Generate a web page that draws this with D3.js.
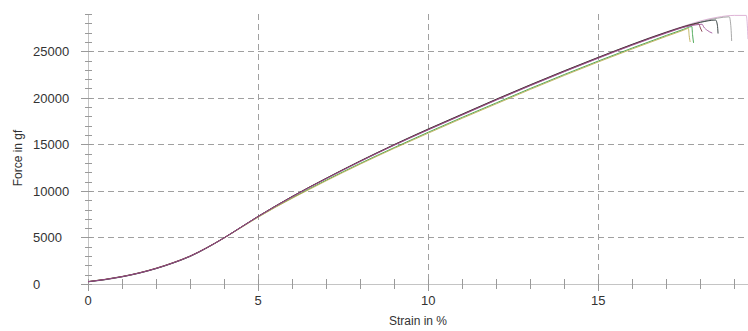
<!DOCTYPE html>
<html><head><meta charset="utf-8">
<script src="https://cdn.jsdelivr.net/npm/d3@7"></script>
<style>
body{margin:0;background:#fff;}
svg{display:block;font-family:"Liberation Sans",Arial,sans-serif;}
</style></head>
<body><svg id="c" width="748" height="331"></svg>
<script>
// ---- data ----
const xTicks = [0, 5, 10, 15];
const yTicks = [0, 5000, 10000, 15000, 20000, 25000];
const seriesNames = ["S1", "S2", "S3", "S4", "S5", "S6", "S7"];
const seriesColors = ["#2f9a3c", "#b9a84a", "#d8a6cf", "#9a9a9a", "#1f2a2a", "#7a2e3a", "#9b4f96"];

const s1 = [[0,260],[0.5,490],[1,800],[1.5,1190],[2,1680],[2.5,2280],[3,2990],[3.5,3910],[4,4950],[4.5,6080],[5,7200],[5.5,8260],[6,9250],[6.5,10220],[7,11150],[8,12950],[9,14650],[10,16300],[11,17900],[12,19450],[13,21000],[14,22500],[15,23950],[16,25350],[17,26700],[17.5,27350],[17.75,27650],[17.77,26800],[17.8,25900]];
const s2 = [[0,250],[0.5,480],[1,780],[1.5,1170],[2,1660],[2.5,2250],[3,2960],[3.5,3880],[4,4930],[4.5,6050],[5,7170],[5.5,8220],[6,9200],[6.5,10150],[7,11080],[8,12870],[9,14570],[10,16200],[11,17800],[12,19350],[13,20900],[14,22400],[15,23850],[16,25250],[17,26600],[17.5,27250],[17.65,27450],[17.67,26700],[17.7,26000]];
const s3 = [[0,240],[0.5,470],[1,770],[1.5,1160],[2,1650],[2.5,2250],[3,2960],[3.5,3890],[4,4940],[4.5,6080],[5,7230],[5.5,8320],[6,9360],[6.5,10360],[7,11320],[8,13180],[9,14950],[10,16620],[11,18230],[12,19830],[13,21380],[14,22880],[15,24330],[16,25750],[17,27080],[17.6,27800],[18,28250],[18.5,28650],[19,28850],[19.35,28850],[19.38,27800],[19.4,26300]];
const s4 = [[0,230],[0.5,450],[1,760],[1.5,1150],[2,1640],[2.5,2240],[3,2950],[3.5,3880],[4,4940],[4.5,6090],[5,7250],[5.5,8340],[6,9380],[6.5,10370],[7,11320],[8,13170],[9,14920],[10,16580],[11,18180],[12,19770],[13,21320],[14,22820],[15,24280],[16,25700],[17,27000],[17.6,27700],[18,28150],[18.5,28550],[18.85,28700],[18.9,27500],[18.92,26100]];
const s5 = [[0,240],[0.5,470],[1,780],[1.5,1170],[2,1660],[2.5,2260],[3,2970],[3.5,3900],[4,4960],[4.5,6110],[5,7270],[5.5,8360],[6,9400],[6.5,10400],[7,11360],[8,13220],[9,14980],[10,16650],[11,18250],[12,19850],[13,21400],[14,22900],[15,24350],[16,25750],[17,27050],[17.6,27750],[18,28100],[18.45,28350],[18.5,27800],[18.52,26900]];
const s6 = [[0,260],[0.5,500],[1,810],[1.5,1200],[2,1700],[2.5,2300],[3,3010],[3.5,3930],[4,4970],[4.5,6110],[5,7260],[5.5,8350],[6,9390],[6.5,10380],[7,11330],[8,13190],[9,14940],[10,16600],[11,18200],[12,19800],[13,21350],[14,22850],[15,24300],[16,25700],[17,27000],[17.6,27700],[17.95,27950],[18.0,27500],[18.05,27100]];
const s7 = [[0,250],[0.5,480],[1,790],[1.5,1180],[2,1670],[2.5,2270],[3,2980],[3.5,3900],[4,4950],[4.5,6100],[5,7250],[5.5,8330],[6,9350],[6.5,10350],[7,11300],[8,13150],[9,14900],[10,16550],[11,18150],[12,19750],[13,21300],[14,22800],[15,24250],[16,25650],[17,26950],[17.6,27650],[17.9,27850],[18.05,27900],[18.1,27600],[18.2,27250],[18.35,26950]];
const allSeries = [s1, s2, s3, s4, s5, s6, s7];

// ---- chart ----
const svg = d3.select("#c");
const x = d3.scaleLinear().domain([0, 19.4]).range([88, 748]);
const y = d3.scaleLinear().domain([0, 29000]).range([284, 14]);

// grid
const grid = svg.append("g").attr("stroke", "#a0a0a0").attr("stroke-width", 1).attr("stroke-dasharray", "6,4");
grid.selectAll("line.h").data(yTicks.filter(d => d > 0)).join("line")
  .attr("x1", x(0)).attr("x2", 748).attr("y1", d => Math.round(y(d)) + 0.5).attr("y2", d => Math.round(y(d)) + 0.5);
grid.selectAll("line.v").data(xTicks.filter(d => d > 0)).join("line")
  .attr("y1", y(29000)).attr("y2", y(0)).attr("x1", d => Math.round(x(d)) + 0.5).attr("x2", d => Math.round(x(d)) + 0.5);

// axes lines
const ax = svg.append("g").attr("stroke", "#c4c4c4").attr("stroke-width", 1);
ax.append("line").attr("x1", x(0)).attr("x2", 748).attr("y1", Math.round(y(0)) + 0.5).attr("y2", Math.round(y(0)) + 0.5);
ax.append("line").attr("x1", Math.round(x(0)) + 0.5).attr("x2", Math.round(x(0)) + 0.5).attr("y1", y(29000)).attr("y2", y(0));

// y ticks
const yMinor = d3.range(0, 29001, 1000);
ax.selectAll("line.ym").data(yMinor).join("line")
  .attr("x1", d => d % 5000 === 0 ? x(0) - 7 : x(0) - 3).attr("x2", x(0) + 4)
  .attr("y1", d => Math.round(y(d)) + 0.5).attr("y2", d => Math.round(y(d)) + 0.5)
  .attr("stroke", "#9a9a9a");
// x ticks
const xMinor = d3.range(0, 19.5, 1);
ax.selectAll("line.xm").data(xMinor).join("line")
  .attr("x1", d => Math.round(x(d)) + 0.5).attr("x2", d => Math.round(x(d)) + 0.5)
  .attr("y1", y(0) - 5).attr("y2", d => d % 5 === 0 ? y(0) + 7 : y(0) + 5)
  .attr("stroke", "#9a9a9a");

// labels
svg.append("g").selectAll("text").data(yTicks).join("text")
  .attr("x", 33).attr("y", d => y(d) + 5)
  .attr("font-size", 13).attr("fill", "#333").text(d => d);
svg.append("g").selectAll("text").data(xTicks).join("text")
  .attr("x", d => x(d)).attr("y", 305).attr("text-anchor", "middle")
  .attr("font-size", 13).attr("fill", "#333").text(d => d);
svg.append("text").attr("x", 418).attr("y", 325).attr("text-anchor", "middle")
  .attr("font-size", 12).attr("fill", "#333").text("Strain in %");
svg.append("text").attr("transform", "translate(22,158) rotate(-90)").attr("text-anchor", "middle")
  .attr("font-size", 12).attr("fill", "#333").text("Force in gf");

// curves
const line = d3.line().x(d => x(d[0])).y(d => y(d[1])).curve(d3.curveMonotoneX);
svg.append("g").attr("fill", "none").selectAll("path").data(allSeries).join("path")
  .attr("d", d => line(d))
  .attr("stroke", (d, i) => seriesColors[i]).attr("stroke-width", 1).attr("stroke-opacity", 0.85);
</script></body></html>
